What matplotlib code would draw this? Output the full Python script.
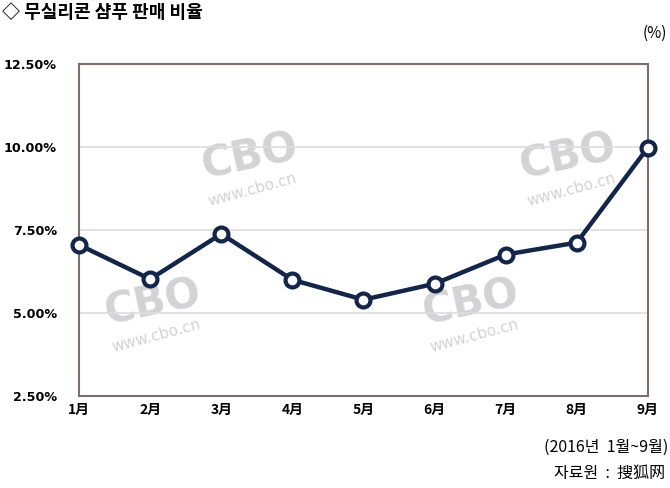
import matplotlib.pyplot as plt

plt.rcParams['font.family'] = ['Noto Sans CJK KR', 'DejaVu Sans']

# data
months = ["1月", "2月", "3月", "4月", "5月", "6月", "7月", "8月", "9月"]
share = [7.05, 6.02, 7.38, 6.0, 5.4, 5.88, 6.76, 7.12, 9.98]
yticks = [2.5, 5.0, 7.5, 10.0, 12.5]
ylabels = ["2.50%", "5.00%", "7.50%", "10.00%", "12.50%"]

navy = "#14254a"
frame = "#7d6e6e"

fig = plt.figure(figsize=(6.7, 4.88), dpi=100)
ax = fig.add_axes([0.118, 0.1885, 0.849, 0.6805])

x = list(range(len(months)))

# watermarks
for wx, wy in [(0.30, 0.72), (0.86, 0.72), (0.13, 0.28), (0.69, 0.28)]:
    ax.text(wx, wy, "CBO", transform=ax.transAxes, fontsize=30, fontweight="bold",
            color="#c8c8cc", alpha=0.8, rotation=12, ha="center", va="center",
            family="DejaVu Sans", zorder=1)
    ax.text(wx + 0.005, wy - 0.1, "www.cbo.cn", transform=ax.transAxes, fontsize=11,
            color="#c8c8cc", alpha=0.8, rotation=15, ha="center", va="center",
            family="DejaVu Sans", zorder=1)

ax.plot(x, share, color=navy, lw=3.2, marker="o", ms=10, mfc="white",
        mec=navy, mew=3, zorder=5, clip_on=False)

ax.set_xlim(0, len(months) - 1)
ax.set_ylim(2.5, 12.5)
ax.set_yticks(yticks)
ax.set_yticklabels(ylabels, fontweight="bold", fontsize=9.2, family="DejaVu Sans")
ax.set_xticks(x)
ax.set_xticklabels(months, fontweight="bold", fontsize=10)
ax.tick_params(length=0, pad=5)
ax.tick_params(axis="y", pad=16)
ax.grid(axis="y", color="#dddddd", lw=1.2, zorder=0)
for s in ax.spines.values():
    s.set_color(frame)
    s.set_linewidth(1.5)

fig.text(0.003, 0.975, "◇ 무실리콘 샴푸 판매 비율", fontsize=13, fontweight="bold",
         ha="left", va="center")
fig.text(0.995, 0.932, "(%)", fontsize=11, ha="right", va="center")
fig.text(0.997, 0.083, "(2016년  1월~9월)", fontsize=11.5, ha="right", va="center")
fig.text(0.993, 0.03, "자료원  :  搜狐网", fontsize=11.5, ha="right", va="center")

fig.savefig("out.png", dpi=100)
